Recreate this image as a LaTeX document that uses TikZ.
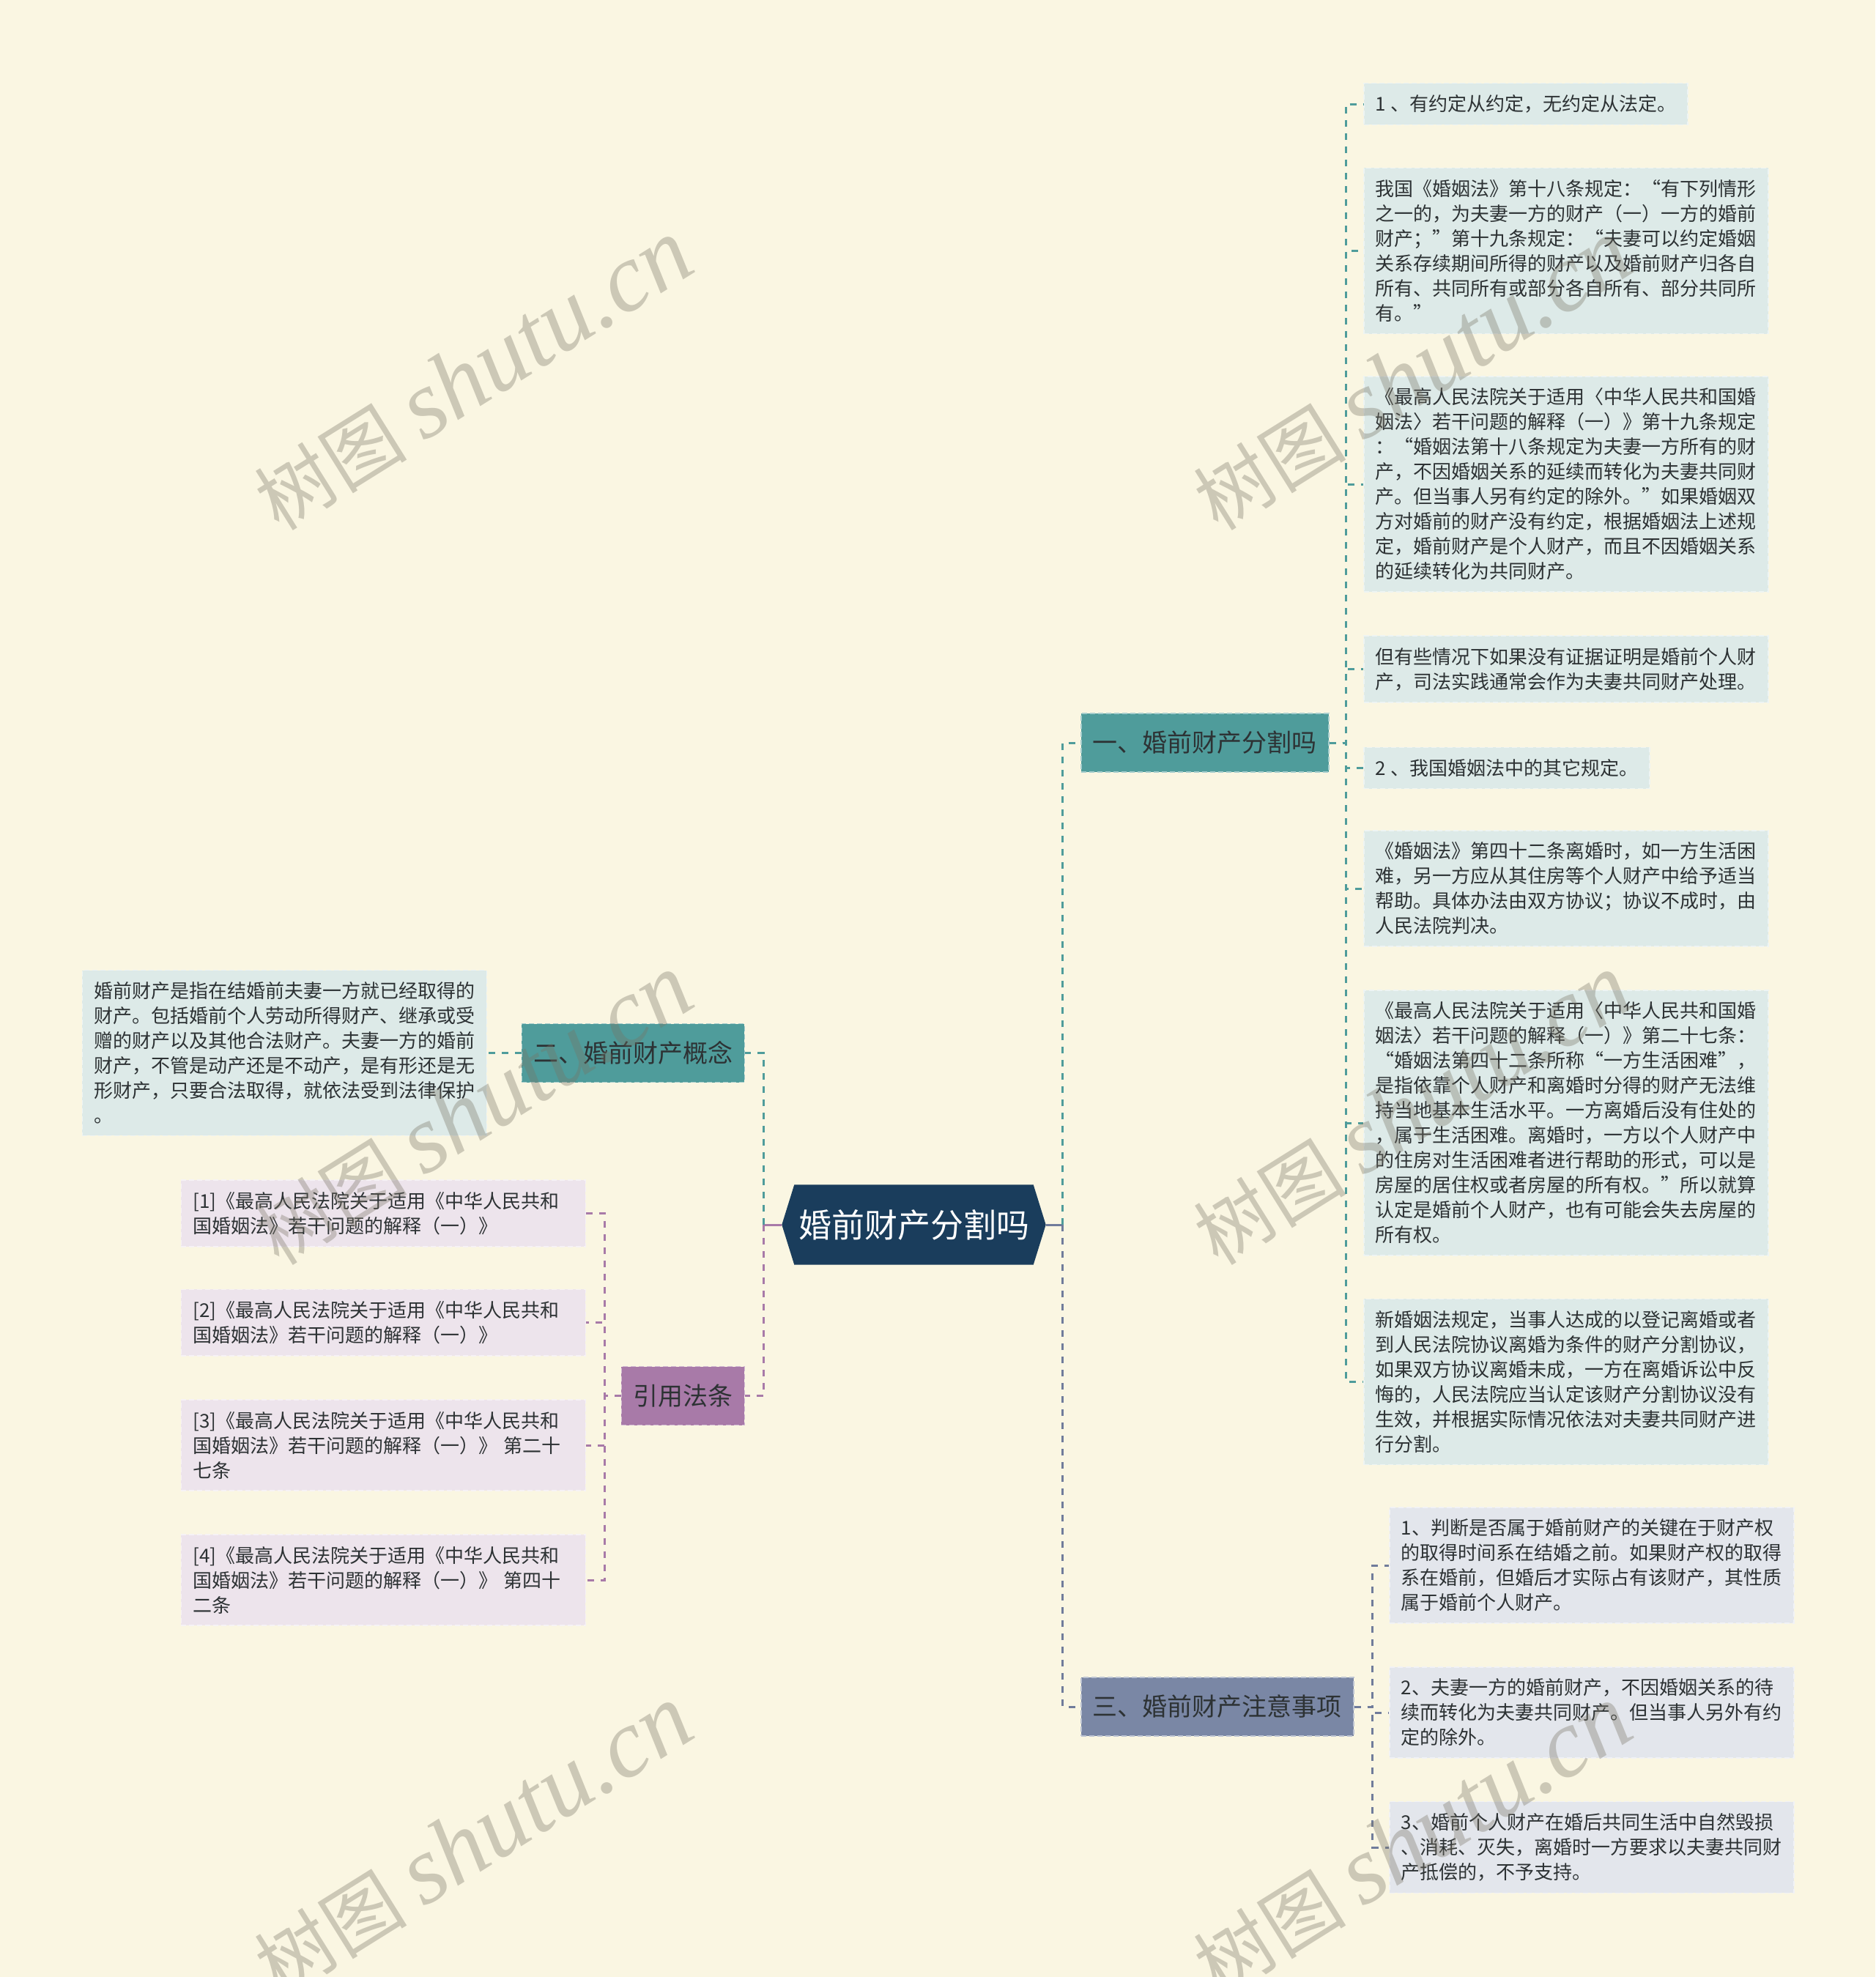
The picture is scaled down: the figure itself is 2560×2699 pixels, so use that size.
\documentclass[tikz,border=0pt]{standalone}
\usepackage{fontspec}
\setmainfont{Noto Sans CJK SC}
\newfontfamily\stampfont{Liberation Serif}
\usetikzlibrary{backgrounds}

\definecolor{paper}{RGB}{250,246,226}
\definecolor{navy}{RGB}{26,61,92}
\definecolor{tealbr}{RGB}{79,156,155}
\definecolor{tealleaf}{RGB}{221,234,232}
\definecolor{plumbr}{RGB}{168,122,168}
\definecolor{plumleaf}{RGB}{237,228,236}
\definecolor{slatebr}{RGB}{122,135,165}
\definecolor{slateleaf}{RGB}{227,230,236}
\definecolor{slateline}{RGB}{112,124,155}
\definecolor{ink}{RGB}{45,50,52}
\definecolor{stampgrey}{RGB}{120,115,100}

\newcommand\leaffont{\fontsize{26}{34}\selectfont}
\newcommand\branchfont{\fontsize{34}{40}\selectfont}
\newcommand\rootfont{\fontsize{45}{50}\selectfont}

\tikzset{
  box/.style={fill=#1, draw=#1!50!white, dash pattern=on 7pt off 4pt, line width=1.5pt},
  leaf/.style={box=#1, align=left, text width=520pt, inner xsep=16pt, inner ysep=16pt, font=\leaffont, text=ink},
  tip/.style={box=#1, inner xsep=16pt, inner ysep=16pt, font=\leaffont, text=ink},
  branch/.style={box=#1, inner xsep=16pt, inner ysep=0pt, minimum height=80pt, font=\branchfont, text=ink},
  link/.style={draw=#1, line width=3pt, dash pattern=on 9pt off 9pt},
  stamp/.style={rotate=32, opacity=.35, text=stampgrey}
}

\begin{document}
\begin{tikzpicture}[x=1pt,y=-1pt]
\useasboundingbox (0,0) rectangle (2560,2699);

% root
\node (c) [minimum width=326pt, minimum height=109pt, inner sep=0pt, font=\rootfont, text=white] at (1247.5,1672) {婚前财产分割吗};
\coordinate (c-e) at ([xshift=17pt]c.east);
\coordinate (c-w) at ([xshift=-17pt]c.west);
\coordinate (rj) at ([xshift=23pt]c-e);
\coordinate (lj) at ([xshift=-25pt]c-w);

% main branches
\node (b1) [branch=tealbr, anchor=west] at (1475,1014) {一、婚前财产分割吗};
\node (b2) [branch=tealbr, anchor=east] at (1017,1437.5) {二、婚前财产概念};
\node (b3) [branch=plumbr, anchor=east] at (1017,1905.5) {引用法条};
\node (b4) [branch=slatebr, anchor=west] at (1475,2330) {三、婚前财产注意事项};

% branch one
\node (l1) [tip=tealleaf, anchor=west] at (1861,142) {1 、有约定从约定，无约定从法定。};
\node (l2) [leaf=tealleaf, anchor=west] at (1861,342.5) {我国《婚姻法》第十八条规定：“有下列情形\\之一的，为夫妻一方的财产（一）一方的婚前\\财产；”第十九条规定：“夫妻可以约定婚姻\\关系存续期间所得的财产以及婚前财产归各自\\所有、共同所有或部分各自所有、部分共同所\\有。”};
\node (l3) [leaf=tealleaf, anchor=west] at (1861,661) {《最高人民法院关于适用〈中华人民共和国婚\\姻法〉若干问题的解释（一）》第十九条规定\\：“婚姻法第十八条规定为夫妻一方所有的财\\产，不因婚姻关系的延续而转化为夫妻共同财\\产。但当事人另有约定的除外。”如果婚姻双\\方对婚前的财产没有约定，根据婚姻法上述规\\定，婚前财产是个人财产，而且不因婚姻关系\\的延续转化为共同财产。};
\node (l4) [leaf=tealleaf, anchor=west] at (1861,913.5) {但有些情况下如果没有证据证明是婚前个人财\\产，司法实践通常会作为夫妻共同财产处理。};
\node (l5) [tip=tealleaf, anchor=west] at (1861,1048.5) {2 、我国婚姻法中的其它规定。};
\node (l6) [leaf=tealleaf, anchor=west] at (1861,1213) {《婚姻法》第四十二条离婚时，如一方生活困\\难，另一方应从其住房等个人财产中给予适当\\帮助。具体办法由双方协议；协议不成时，由\\人民法院判决。};
\node (l7) [leaf=tealleaf, anchor=west] at (1861,1533) {《最高人民法院关于适用〈中华人民共和国婚\\姻法〉若干问题的解释（一）》第二十七条：\\“婚姻法第四十二条所称“一方生活困难”，\\是指依靠个人财产和离婚时分得的财产无法维\\持当地基本生活水平。一方离婚后没有住处的\\，属于生活困难。离婚时，一方以个人财产中\\的住房对生活困难者进行帮助的形式，可以是\\房屋的居住权或者房屋的所有权。”所以就算\\认定是婚前个人财产，也有可能会失去房屋的\\所有权。};
\node (l8) [leaf=tealleaf, anchor=west] at (1861,1886.5) {新婚姻法规定，当事人达成的以登记离婚或者\\到人民法院协议离婚为条件的财产分割协议，\\如果双方协议离婚未成，一方在离婚诉讼中反\\悔的，人民法院应当认定该财产分割协议没有\\生效，并根据实际情况依法对夫妻共同财产进\\行分割。};

% branch two
\node (k1) [leaf=tealleaf, anchor=east] at (665,1437.5) {婚前财产是指在结婚前夫妻一方就已经取得的\\财产。包括婚前个人劳动所得财产、继承或受\\赠的财产以及其他合法财产。夫妻一方的婚前\\财产，不管是动产还是不动产，是有形还是无\\形财产，只要合法取得，就依法受到法律保护\\。};

% references
\node (r1) [leaf=plumleaf, anchor=east] at (800,1656.5) {[1]《最高人民法院关于适用《中华人民共和\\国婚姻法》若干问题的解释（一）》};
\node (r2) [leaf=plumleaf, anchor=east] at (800,1805.5) {[2]《最高人民法院关于适用《中华人民共和\\国婚姻法》若干问题的解释（一）》};
\node (r3) [leaf=plumleaf, anchor=east] at (800,1973) {[3]《最高人民法院关于适用《中华人民共和\\国婚姻法》若干问题的解释（一）》 第二十\\七条};
\node (r4) [leaf=plumleaf, anchor=east] at (800,2157) {[4]《最高人民法院关于适用《中华人民共和\\国婚姻法》若干问题的解释（一）》 第四十\\二条};

% branch three
\node (m1) [leaf=slateleaf, anchor=west] at (1896,2137) {1、判断是否属于婚前财产的关键在于财产权\\的取得时间系在结婚之前。如果财产权的取得\\系在婚前，但婚后才实际占有该财产，其性质\\属于婚前个人财产。};
\node (m2) [leaf=slateleaf, anchor=west] at (1896,2338) {2、夫妻一方的婚前财产，不因婚姻关系的待\\续而转化为夫妻共同财产。但当事人另外有约\\定的除外。};
\node (m3) [leaf=slateleaf, anchor=west] at (1896,2522) {3、婚前个人财产在婚后共同生活中自然毁损\\、消耗、灭失，离婚时一方要求以夫妻共同财\\产抵偿的，不予支持。};

% connectors
\draw[slateline, line width=3pt] (c-e) -- (rj);
\draw[plumbr, line width=3pt] (c-w) -- (lj);
\draw[link=tealbr] (rj) |- (b1.west);
\draw[link=slateline] (rj) |- (b4.west);
\draw[link=tealbr] (lj) |- (b2.east);
\draw[link=plumbr] (lj) |- (b3.east);
\foreach \i in {1,...,8}
  \draw[link=tealbr] (b1.east) -- ++(23pt,0) |- (l\i.west);
\foreach \i in {1,...,3}
  \draw[link=slateline] (b4.east) -- ++(25pt,0) |- (m\i.west);
\foreach \i in {1,...,4}
  \draw[link=plumbr] (b3.west) -- ++(-22pt,0) |- (r\i.east);
\draw[link=tealbr] (b2.west) -- (b2.west -| k1.east);

\begin{scope}[on background layer]
\fill[paper] (0,0) rectangle (2560,2699);
\fill[navy] (c.north west) -- (c.north east) -- (c-e) -- (c.south east) -- (c.south west) -- (c-w) -- cycle;
\end{scope}

% watermarks
\foreach \x/\y [count=\k] in {646/512, 1928/512, 646/1515, 1928/1515, 646/2513, 1928/2513}
  \node (wm\k) [stamp] at (\x,\y) {\fontsize{104}{104}\selectfont 树图 {\stampfont\itshape\fontsize{132}{132}\selectfont shutu.cn}};
\end{tikzpicture}
\end{document}
